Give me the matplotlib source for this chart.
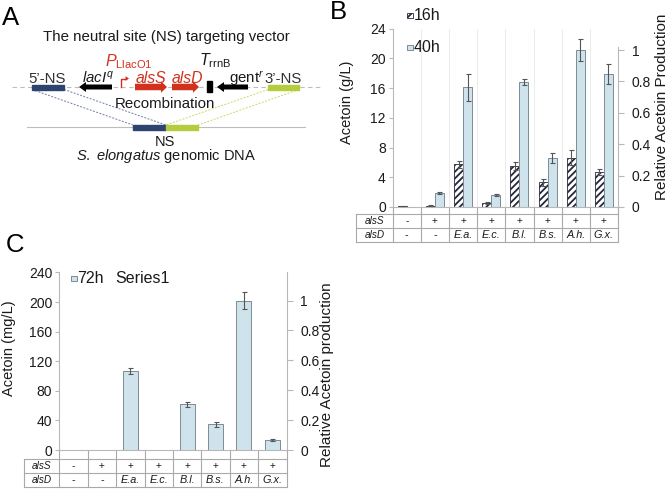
import matplotlib
matplotlib.use('Agg')
import matplotlib.pyplot as plt
from matplotlib.patches import Rectangle, FancyArrow
from matplotlib.lines import Line2D

plt.rcParams['font.family'] = ['Liberation Sans', 'DejaVu Sans']
plt.rcParams['mathtext.fontset'] = 'custom'
plt.rcParams['mathtext.rm'] = 'Liberation Sans'
plt.rcParams['mathtext.it'] = 'Liberation Sans:italic'
plt.rcParams['mathtext.bf'] = 'Liberation Sans:bold'
plt.rcParams['hatch.linewidth'] = 1.3

# ---------------- data ----------------
alsS = ['-', '+', '+', '+', '+', '+', '+', '+']
alsD = ['-', '-', 'E.a.', 'E.c.', 'B.l.', 'B.s.', 'A.h.', 'G.x.']

b_16h = [0.12, 0.18, 5.75, 0.5, 5.5, 3.3, 6.65, 4.7]
b_16h_err = [0.03, 0.05, 0.45, 0.12, 0.55, 0.45, 0.95, 0.45]
b_40h = [0.0, 1.85, 16.1, 1.65, 16.8, 6.55, 21.1, 17.9]
b_40h_err = [0.0, 0.1, 1.8, 0.15, 0.4, 0.7, 1.45, 1.35]
b_yticks = [0, 4, 8, 12, 16, 20, 24]
b_rticks = [0, 0.2, 0.4, 0.6, 0.8, 1]
b_rlabels = ['0', '0.2', '0.4', '0.6', '0.8', '1']
b_series = ['16h', '40h']

c_72h = [0, 0, 107, 0, 61.5, 34.5, 202, 14]
c_72h_err = [0, 0, 4, 0, 3.5, 2.8, 11, 1.2]
c_yticks = [0, 40, 80, 120, 160, 200, 240]
c_rticks = [0, 0.2, 0.4, 0.6, 0.8, 1]
c_rlabels = ['0', '0.2', '0.4', '0.6', '0.8', '1']
c_series = ['72h', 'Series1']

# ---------------- figure ----------------
W, H = 672, 497
fig = plt.figure(figsize=(W / 100, H / 100), dpi=100)

def ax_px(l, t, r, b):
    return fig.add_axes([l / W, 1 - b / H, (r - l) / W, (b - t) / H])

ov = fig.add_axes([0, 0, 1, 1], zorder=-5)
ov.set_xlim(0, W)
ov.set_ylim(H, 0)
ov.axis('off')

BLUE_FACE = '#cfe3ec'
BAR_EDGE = '#7b8a93'
HATCH_EDGE = '#25283a'
SPINE = '#b8b8b8'
ERR = '#555555'
TXT = '#1a1a1a'
x = list(range(8))


def style_axes(ax, ax2, yticks, rticks, rlabels, rtop):
    ax.set_xlim(-0.5, 7.5)
    for s in ['top', 'right']:
        ax.spines[s].set_visible(False)
    for s in ['left', 'bottom']:
        ax.spines[s].set_color(SPINE)
        ax.spines[s].set_linewidth(0.8)
    ax.set_xticks([])
    ax.set_yticks(yticks)
    ax.tick_params(axis='y', colors=SPINE, labelcolor=TXT, labelsize=10,
                   length=3, width=0.8, pad=2)
    for s in ['top', 'left', 'bottom']:
        ax2.spines[s].set_visible(False)
    ax2.spines['right'].set_color(SPINE)
    ax2.spines['right'].set_linewidth(0.8)
    ax2.spines['right'].set_bounds(0, rtop)
    ax2.set_yticks(rticks)
    ax2.set_yticklabels(rlabels)
    ax2.tick_params(axis='y', colors=SPINE, labelcolor=TXT, labelsize=10,
                    length=4, width=0.8, pad=6)
    ax.patch.set_visible(False)
    ax2.patch.set_visible(False)


def place_ylabel(ax, text, size, xpx, ypx, L, T, R, B):
    ax.set_ylabel(text, fontsize=size, color=TXT)
    ax.yaxis.label.set_verticalalignment('center')
    ax.yaxis.label.set_horizontalalignment('center')
    ax.yaxis.set_label_coords((xpx - L) / (R - L), (B - ypx) / (B - T))


def draw_table(ax, ax_bottom_px, ax_height_px, left_data, rows_px):
    tr = ax.get_xaxis_transform()
    def fy(p):
        return (ax_bottom_px - p) / ax_height_px
    xl = left_data
    y_top, y_mid, y_bot = [fy(p) for p in rows_px]
    kw = dict(color='#a9a9a9', lw=0.8, transform=tr, clip_on=False)
    for yy in (y_top, y_mid, y_bot):
        ax.add_line(Line2D([xl, 7.5], [yy, yy], **kw))
    ax.add_line(Line2D([xl, xl], [y_top, y_bot], **kw))
    for b in [i - 0.5 for i in range(9)]:
        ax.add_line(Line2D([b, b], [0, y_bot], **kw))
    r1 = (y_top + y_mid) / 2
    r2 = (y_mid + y_bot) / 2
    lx = (xl - 0.5) / 2
    ax.text(lx, r1, 'alsS', transform=tr, ha='center', va='center',
            fontsize=7.2, style='italic', color=TXT, clip_on=False)
    ax.text(lx, r2, 'alsD', transform=tr, ha='center', va='center',
            fontsize=7.2, style='italic', color=TXT, clip_on=False)
    for i in range(8):
        ax.text(i, r1, alsS[i], transform=tr, ha='center', va='center',
                fontsize=7.2, color=TXT, clip_on=False)
        ax.text(i, r2, alsD[i], transform=tr, ha='center', va='center',
                fontsize=7.8, color=TXT, clip_on=False,
                style='italic' if alsD[i] != '-' else 'normal')

# ---------------- panel B ----------------
BL, BT, BR, BB = 392.7, 28.5, 618.0, 207.0
axB = ax_px(BL, BT, BR, BB)
axB2 = axB.twinx()
axB.set_ylim(0, 24)
axB2.set_ylim(0, 24 / 21.1)
for b in [i + 0.5 for i in range(7)]:
    axB.axvline(b, color='#ececec', lw=0.7, zorder=0)
bw = 0.32
axB.bar([i - bw / 2 for i in x], b_16h, width=bw, color='white', hatch='/////',
        edgecolor=HATCH_EDGE, linewidth=0.6, zorder=2, label=b_series[0])
axB.bar([i + bw / 2 for i in x], b_40h, width=bw, color=BLUE_FACE,
        edgecolor=BAR_EDGE, linewidth=0.7, zorder=2, label=b_series[1])
axB.errorbar([i - bw / 2 for i in x], b_16h, yerr=b_16h_err, fmt='none',
             ecolor=ERR, elinewidth=0.8, capsize=1.8, capthick=0.8, zorder=3)
e40 = [i for i in x if b_40h_err[i] > 0]
axB.errorbar([i + bw / 2 for i in e40], [b_40h[i] for i in e40],
             yerr=[b_40h_err[i] for i in e40], fmt='none',
             ecolor=ERR, elinewidth=0.8, capsize=1.8, capthick=0.8, zorder=3)
style_axes(axB, axB2, b_yticks, b_rticks, b_rlabels, 1.02)
place_ylabel(axB, 'Acetoin (g/L)', 10.5, 347.5, 102.5, BL, BT, BR, BB)
place_ylabel(axB2, 'Relative Acetoin Production', 11, 662, 107, BL, BT, BR, BB)
cw = (BR - BL) / 8
draw_table(axB, BB, BB - BT, -0.5 - (BL - 356) / cw, (214, 228, 242))

# legend B (drawn as key boxes + text)
ov.add_patch(Rectangle((407, 12.5), 5.5, 5.5, facecolor='white',
                       edgecolor=HATCH_EDGE, hatch='////', lw=0.6))
ov.text(413.5, 15.5, b_series[0], fontsize=11.5, ha='left', va='center',
        color=TXT)
ov.add_patch(Rectangle((407, 44.5), 5.5, 5.5, facecolor=BLUE_FACE,
                       edgecolor=BAR_EDGE, lw=0.7))
ov.text(413.5, 47.5, b_series[1], fontsize=11.5, ha='left', va='center',
        color=TXT)

# ---------------- panel C ----------------
CL, CT, CR, CB = 59.3, 272.4, 286.5, 450.0
axC = ax_px(CL, CT, CR, CB)
axC2 = axC.twinx()
axC.set_ylim(0, 240)
axC2.set_ylim(0, 240 / 202.0)
cbw = 0.53
axC.bar(x, c_72h, width=cbw, color=BLUE_FACE, edgecolor=BAR_EDGE,
        linewidth=0.7, zorder=2, label=c_series[0])
ec = [i for i in x if c_72h_err[i] > 0]
axC.errorbar(ec, [c_72h[i] for i in ec], yerr=[c_72h_err[i] for i in ec],
             fmt='none', ecolor=ERR, elinewidth=0.8, capsize=1.8,
             capthick=0.8, zorder=3)
style_axes(axC, axC2, c_yticks, c_rticks, c_rlabels, 240 / 202.0)
place_ylabel(axC, 'Acetoin (mg/L)', 10.5, 9.5, 348, CL, CT, CR, CB)
place_ylabel(axC2, 'Relative Acetoin production', 11, 327, 375, CL, CT, CR, CB)
cw = (CR - CL) / 8
draw_table(axC, CB, CB - CT, -0.5 - (CL - 24) / cw, (459, 473, 487))

ov.add_patch(Rectangle((71, 275.5), 5.5, 5.5, facecolor=BLUE_FACE,
                       edgecolor=BAR_EDGE, lw=0.7))
ov.text(77.5, 278.5, c_series[0], fontsize=11.5, ha='left', va='center',
        color=TXT)
ov.text(115, 278.5, c_series[1], fontsize=11.5, ha='left', va='center',
        color=TXT)

# ---------------- panel letters ----------------
ov.text(2, 25, 'A', fontsize=18.5, ha='left', va='baseline', color='black')
ov.text(330, 0, 'B', fontsize=18.5, ha='left', va='top', color='black')
ov.text(6, 252, 'C', fontsize=18.5, ha='left', va='baseline', color='black')

# ---------------- panel A diagram ----------------
RED = '#d0321e'
NAVY = '#2e4470'
GREEN = '#b4cc3e'
GREY = '#bdbdbd'
FS = 10.8
ov.text(166, 41.5, 'The neutral site (NS) targeting vector', fontsize=FS,
        ha='center', va='baseline', color=TXT)
ov.add_line(Line2D([12, 320], [87, 87], color=GREY, lw=0.8, ls=(0, (4, 3)),
                   zorder=1))
ov.add_patch(Rectangle((32, 85), 32, 4.5, color=NAVY, zorder=3))
ov.add_patch(Rectangle((268, 85), 31, 4.5, color=GREEN, zorder=3))
ov.text(47, 83, '5\u2019-NS', fontsize=FS, ha='center', va='baseline',
        color='#333333')
ov.text(283, 83, '3\u2019-NS', fontsize=FS, ha='center', va='baseline',
        color='#333333')
ov.text(82, 83, r'$\mathit{lacI}^{q}$', fontsize=FS, ha='left',
        va='baseline', color=TXT)
arrow_kw = dict(length_includes_head=True, lw=0, zorder=3)
ov.add_patch(FancyArrow(112, 87, -33, 0, width=5, head_width=10,
                        head_length=7, color='black', **arrow_kw))
# promoter
ov.add_line(Line2D([121, 121, 126], [87, 78.5, 78.5], color=RED, lw=1.0,
                   zorder=3))
ov.add_patch(FancyArrow(125, 78.5, 4, 0, width=0.1, head_width=4.5,
                        head_length=3.5, color=RED, **arrow_kw))
ov.text(105, 66, r'$\mathit{P}_{\mathrm{LlacO1}}$', fontsize=11.5,
        ha='left', va='baseline', color=RED)
ov.text(151, 83, 'alsS', fontsize=11.3, style='italic', ha='center',
        va='baseline', color=RED)
ov.text(187, 83, 'alsD', fontsize=11.3, style='italic', ha='center',
        va='baseline', color=RED)
ov.add_patch(FancyArrow(135, 87, 32, 0, width=6.5, head_width=11.5,
                        head_length=6, color=RED, **arrow_kw))
ov.add_patch(FancyArrow(172, 87, 27, 0, width=6.5, head_width=11.5,
                        head_length=6, color=RED, **arrow_kw))
ov.text(199, 65, r'$\mathit{T}_{\mathrm{rrnB}}$', fontsize=11.5, ha='left',
        va='baseline', color=TXT)
ov.add_patch(Rectangle((207, 81), 5, 11, color='black', zorder=3))
ov.add_patch(FancyArrow(248, 87, -31, 0, width=5, head_width=10,
                        head_length=7, color='black', **arrow_kw))
ov.text(229, 83, r'$\mathrm{gent}^{r}$', fontsize=FS, ha='left',
        va='baseline', color=TXT)
ov.text(165, 107.5, 'Recombination', fontsize=FS, ha='center',
        va='baseline', color=TXT)
ov.add_line(Line2D([27, 305], [127, 127], color=GREY, lw=0.8, zorder=1))
ov.add_patch(Rectangle((133, 125), 33, 4.5, color=NAVY, zorder=3))
ov.add_patch(Rectangle((166, 125), 32, 4.5, color=GREEN, zorder=3))
dl = dict(lw=0.7, ls=(0, (2, 1.5)), zorder=2)
ov.add_line(Line2D([32, 133], [89.5, 125], color='#6f7fa3', **dl))
ov.add_line(Line2D([64, 166], [89.5, 125], color='#6f7fa3', **dl))
ov.add_line(Line2D([268, 166], [89.5, 125], color='#c7d86a', **dl))
ov.add_line(Line2D([299, 198], [89.5, 125], color='#c7d86a', **dl))
ov.text(165, 145.5, 'NS', fontsize=10.5, ha='center', va='baseline',
        color=TXT)
ov.text(166, 160, r'$\mathit{S.\ elongatus}$ genomic DNA', fontsize=10.5,
        ha='center', va='baseline', color=TXT)

fig.savefig('out.png', dpi=100)
